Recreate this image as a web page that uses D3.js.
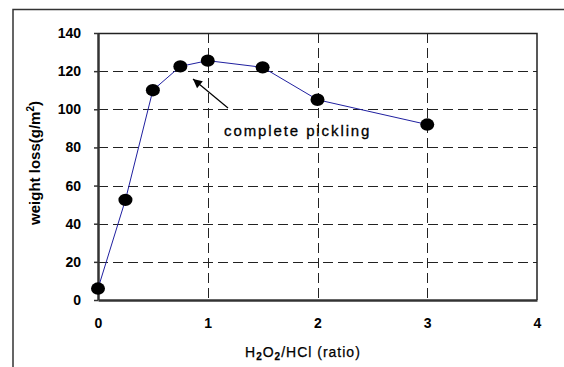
<!DOCTYPE html>
<html>
<head>
<meta charset="utf-8">
<script src="https://cdn.jsdelivr.net/npm/d3@7"></script>
<style>
  body { margin: 0; background: #fff; }
  svg { display: block; font-family: "Liberation Sans", Arial, sans-serif; }
</style>
</head>
<body>
<svg width="564" height="367"></svg>
<script>
// data
const ratios = [0, 0.25, 0.5, 0.75, 1, 1.5, 2, 3];
const weightLoss = [6, 52.5, 110, 122.5, 125.5, 122, 105, 92];
const xTicks = [0, 1, 2, 3, 4];
const yTicks = [0, 20, 40, 60, 80, 100, 120, 140];

const svg = d3.select("svg");
const margin = {top: 33, right: 27, bottom: 67, left: 98};
const width = +svg.attr("width") - margin.left - margin.right;
const height = +svg.attr("height") - margin.top - margin.bottom;

// outer frame (only left and top edges show)
svg.append("rect")
    .attr("x", 13).attr("y", 9.5)
    .attr("width", 600).attr("height", 400)
    .attr("fill", "none").attr("stroke", "#333").attr("stroke-width", 1.5);

const x = d3.scaleLinear().domain([0, 4]).range([0, width]);
const y = d3.scaleLinear().domain([0, 140]).range([height, 0]);

const g = svg.append("g")
    .attr("transform", "translate(" + margin.left + "," + margin.top + ")");

// dashed grid
g.selectAll(".hgrid")
    .data(yTicks.filter(d => d > 0 && d < 140))
    .enter().append("line")
    .attr("x1", 0).attr("x2", width)
    .attr("y1", d => Math.round(y(d)) + 0.5).attr("y2", d => Math.round(y(d)) + 0.5)
    .attr("stroke", "#222").attr("stroke-dasharray", "10,5");

g.selectAll(".vgrid")
    .data(xTicks.filter(d => d > 0 && d < 4))
    .enter().append("line")
    .attr("y1", 0).attr("y2", height)
    .attr("x1", d => Math.round(x(d)) + 0.5).attr("x2", d => Math.round(x(d)) + 0.5)
    .attr("stroke", "#222").attr("stroke-dasharray", "10,5");

// top and right border
g.append("path")
    .attr("d", "M0,0.5H" + width + "V" + height)
    .attr("fill", "none").attr("stroke", "#222").attr("stroke-width", 1.5);

// axes
const yAxis = g.append("g")
    .call(d3.axisLeft(y).tickValues(yTicks).tickSize(4).tickSizeOuter(0).tickPadding(13));
const xAxis = g.append("g")
    .attr("transform", "translate(0," + height + ")")
    .call(d3.axisBottom(x).tickValues(xTicks).tickSize(0).tickPadding(18).tickFormat(d3.format("d")));

[yAxis, xAxis].forEach(a => {
    a.select(".domain").attr("stroke", "#333").attr("stroke-width", 2.5);
    a.selectAll(".tick line").attr("stroke", "#333").attr("stroke-width", 1.5);
    a.selectAll("text")
        .attr("fill", "#000")
        .style("font-size", "14px")
        .style("font-weight", "bold")
        .style("font-family", "'Liberation Sans', Arial, sans-serif");
});

// series line
const line = d3.line()
    .x((d, i) => x(ratios[i]))
    .y(d => y(d));

g.append("path")
    .datum(weightLoss)
    .attr("d", line)
    .attr("fill", "none")
    .attr("stroke", "#2020a0")
    .attr("stroke-width", 1);

g.selectAll(".dot")
    .data(weightLoss)
    .enter().append("ellipse")
    .attr("cx", (d, i) => x(ratios[i]))
    .attr("cy", d => y(d))
    .attr("rx", 7).attr("ry", 6.2)
    .attr("fill", "#000");

// annotation
svg.append("defs").append("marker")
    .attr("id", "head")
    .attr("viewBox", "0 0 10 10")
    .attr("refX", 10).attr("refY", 5)
    .attr("markerWidth", 12).attr("markerHeight", 9)
    .attr("markerUnits", "userSpaceOnUse")
    .attr("orient", "auto")
    .append("path").attr("d", "M0,0L10,5L0,10Z").attr("fill", "#000");

svg.append("line")
    .attr("x1", 228).attr("y1", 108)
    .attr("x2", 193).attr("y2", 79)
    .attr("stroke", "#000").attr("stroke-width", 1.2)
    .attr("marker-end", "url(#head)");

svg.append("text")
    .attr("x", 224).attr("y", 136)
    .style("font-size", "15px")
    .style("letter-spacing", "1.9px")
    .attr("stroke", "#000").attr("stroke-width", 0.3)
    .text("complete pickling");

// axis titles
const xt = svg.append("text")
    .attr("x", 245).attr("y", 357)
    .style("font-size", "14px")
    .style("letter-spacing", "1px")
    .attr("stroke", "#000").attr("stroke-width", 0.25);
xt.append("tspan").text("H");
xt.append("tspan").attr("dy", 3).style("font-size", "10px").style("font-weight", "bold").text("2");
xt.append("tspan").attr("dy", -3).text("O");
xt.append("tspan").attr("dy", 3).style("font-size", "10px").style("font-weight", "bold").text("2");
xt.append("tspan").attr("dy", -3).text("/HCl (ratio)");

const yt = svg.append("text")
    .attr("transform", "translate(40,163) rotate(-90)")
    .attr("text-anchor", "middle")
    .style("font-size", "15px")
    .style("font-weight", "bold");
yt.append("tspan").text("weight loss(g/m");
yt.append("tspan").attr("dy", -6).style("font-size", "10px").text("2");
yt.append("tspan").attr("dy", 6).text(")");
</script>
</body>
</html>
